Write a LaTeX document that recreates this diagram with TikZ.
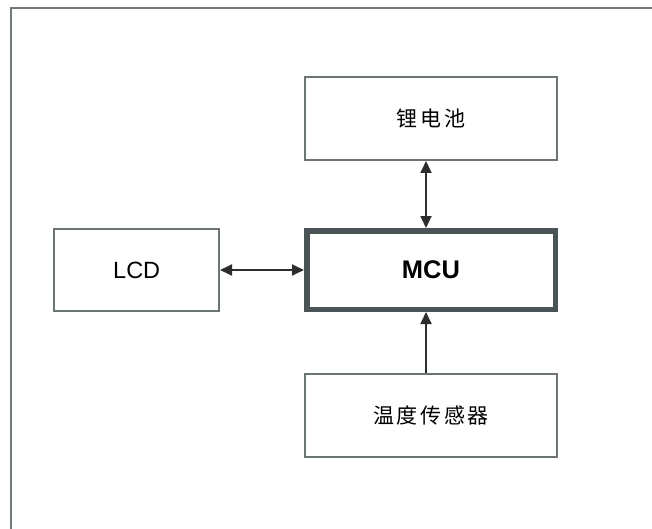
\documentclass[tikz,border=0pt]{standalone}
\usepackage{fontspec}
\setmainfont{Liberation Sans}
\newfontfamily\cjk[LetterSpace=12]{Noto Sans CJK SC}
\usepackage{tikz}
\usetikzlibrary{positioning,arrows.meta}
\definecolor{boxgray}{RGB}{108,116,118}
\definecolor{mcugray}{RGB}{74,84,86}
\definecolor{arrowgray}{RGB}{45,45,45}
\definecolor{framegray}{RGB}{112,122,122}
\tikzset{
	inner sep=2mm,
	block/.style={rectangle,draw=boxgray,line width=1.6pt,minimum width=252pt,minimum height=83pt,font=\cjk\fontsize{21}{25}\selectfont},
	lcd/.style={rectangle,draw=boxgray,line width=1.6pt,minimum width=165pt,minimum height=82pt,font=\fontsize{23.5}{27}\selectfont},
	mcu/.style={rectangle,draw=mcugray,line width=5.5pt,minimum width=248.5pt,minimum height=78.5pt,font=\fontsize{25.5}{29}\selectfont\bfseries},
	pre/.style={-{Triangle[length=12pt,width=11pt]},line width=1.8pt,draw=arrowgray},
	both/.style={{Triangle[length=12pt,width=11pt]}-{Triangle[length=12pt,width=11pt]},line width=1.8pt,draw=arrowgray},
	frame/.style={draw=framegray,line width=2pt}
}

\begin{document}
\begin{tikzpicture}
\useasboundingbox (0,0) rectangle (652pt,-529pt);
\draw[frame] (11pt,-535pt) -- (11pt,-8pt) -- (660pt,-8pt);
\node[mcu] (MCU) at (431pt,-270pt) { MCU };
\node[block] (Battery) [above=67pt of MCU] { 锂电池 };
\node[lcd] (LCD) [left=84pt of MCU] { LCD }
   edge [both] (MCU);
\node[block] (Sensor) [below=61pt of MCU] { 温度传感器 };
% vertical links sit a little left of centre
\draw [both] ([xshift=-5pt]Battery.south) -- ([xshift=-5pt]MCU.north);
\draw [pre] ([xshift=-5pt]Sensor.north) -- ([xshift=-5pt]MCU.south);
\end{tikzpicture}
\end{document}
